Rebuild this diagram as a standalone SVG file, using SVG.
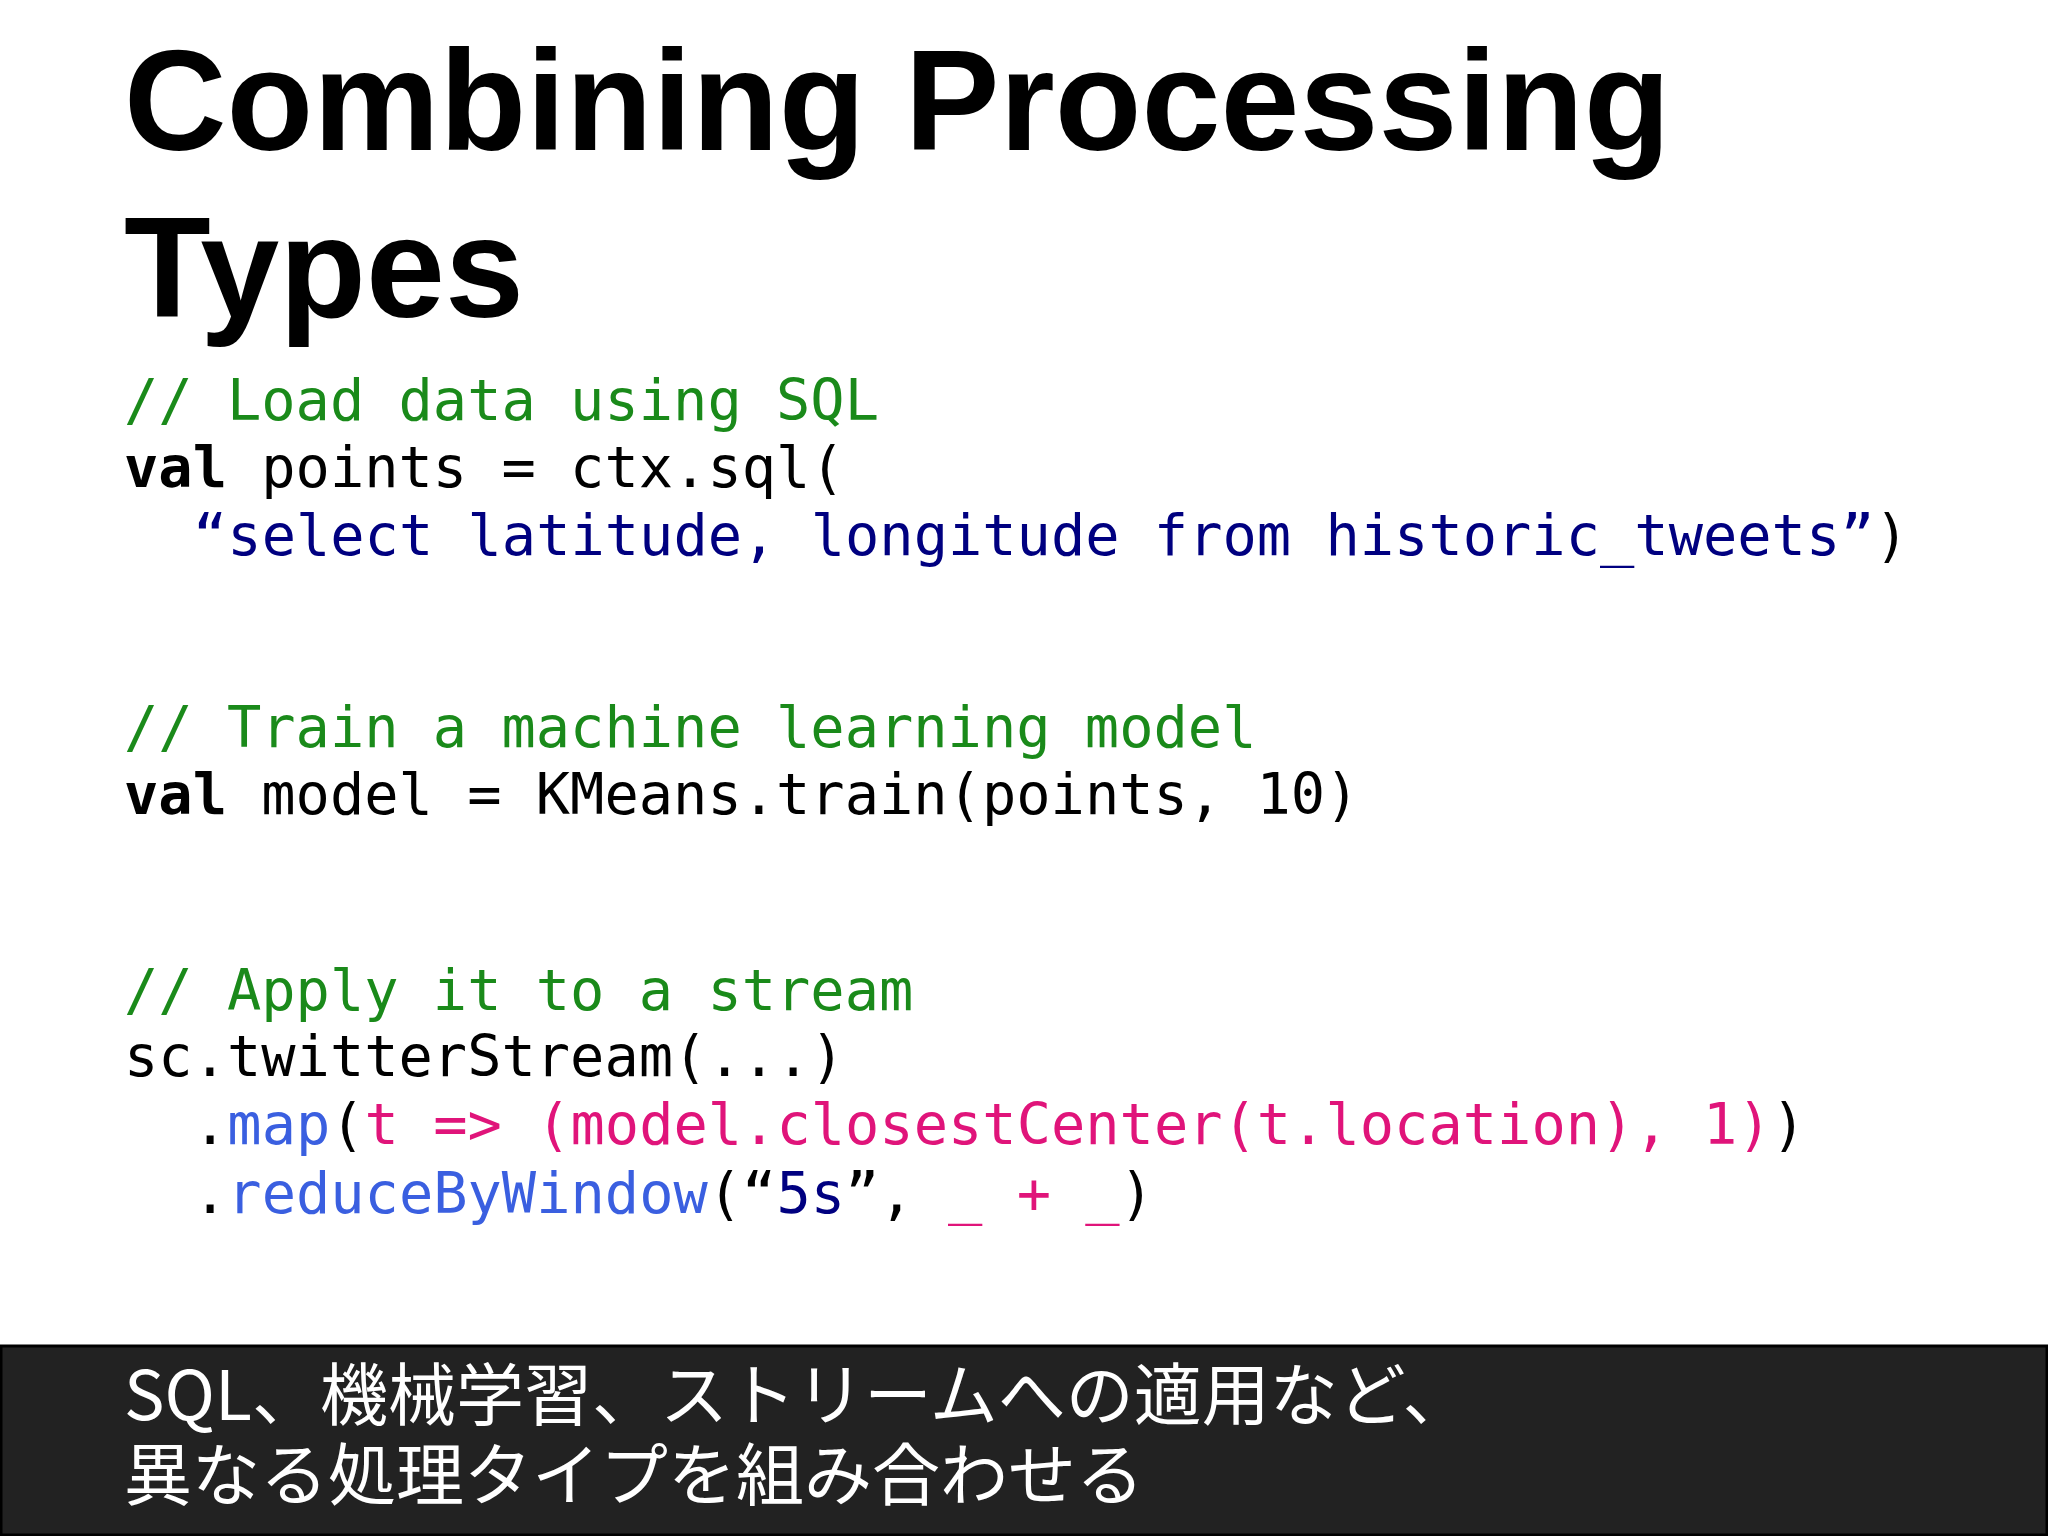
<svg xmlns="http://www.w3.org/2000/svg" width="2048" height="1536" viewBox="0 0 2048 1536">
<style>
.t{font-family:"Liberation Sans",Arial,sans-serif;font-weight:bold;font-size:142px;fill:#000}
.c{font-family:"DejaVu Sans Mono",monospace;font-size:57px;fill:#000;white-space:pre}
.g{fill:#1a8a1a}.s{fill:#000080}.b{fill:#3a5fe0}.m{fill:#e0147a}
.j{font-family:"Noto Sans CJK JP",sans-serif;font-size:68px;fill:#fff}
</style>
<rect width="2048" height="1536" fill="#fff"/>
<g id="title">
<text class="t" x="124" y="150">Combining Processing</text>
<text class="t" x="124" y="317">Types</text>
</g>
<g id="code">
<text class="c g" x="124" y="420">// Load data using SQL</text>
<text class="c" x="124" y="487"><tspan font-weight="bold">val</tspan> points = ctx.sql(</text>
<text class="c" x="193" y="555"><tspan class="s">“select latitude, longitude from historic_tweets”</tspan>)</text>
<text class="c g" x="124" y="747">// Train a machine learning model</text>
<text class="c" x="124" y="814"><tspan font-weight="bold">val</tspan> model = KMeans.train(points, 10)</text>
<text class="c g" x="124" y="1010">// Apply it to a stream</text>
<text class="c" x="124" y="1076">sc.twitterStream(...)</text>
<text class="c" x="193" y="1144">.<tspan class="b">map</tspan>(<tspan class="m">t =&gt; (model.closestCenter(t.location), 1)</tspan>)</text>
<text class="c" x="193" y="1213">.<tspan class="b">reduceByWindow</tspan>(“<tspan class="s">5s</tspan>”, <tspan class="m">_ + _</tspan>)</text>
</g>
<g id="caption">
<rect x="1" y="1346" width="2046" height="189" fill="#222" stroke="#000" stroke-width="3"/>
<text class="j" x="124" y="1420">SQL、機械学習、ストリームへの適用など、</text>
<text class="j" x="124" y="1500">異なる処理タイプを組み合わせる</text>
</g>
</svg>
